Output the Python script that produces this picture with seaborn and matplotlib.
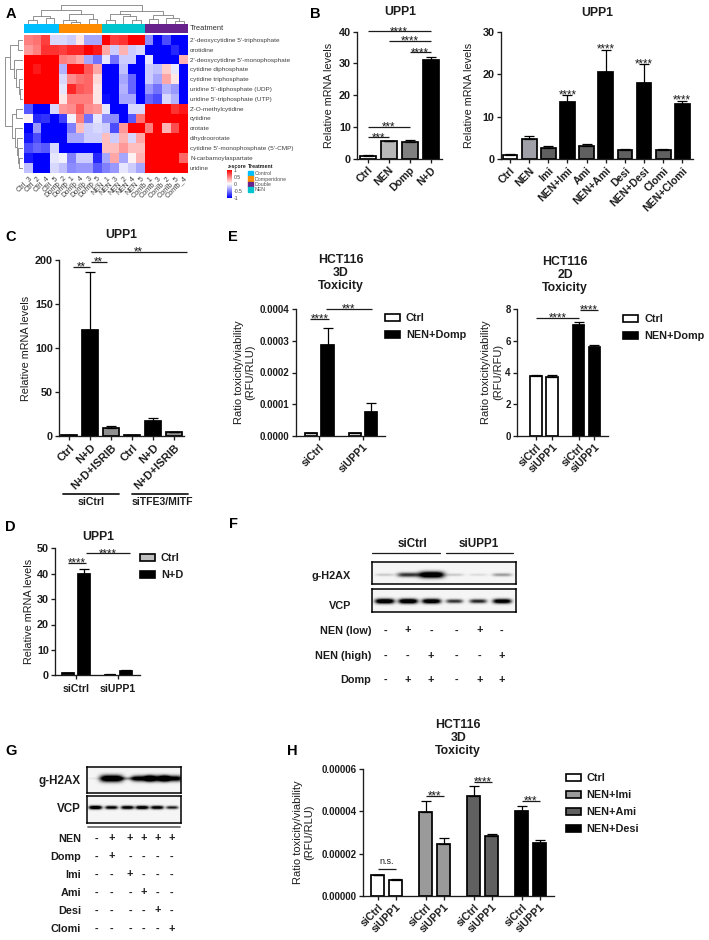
import numpy as np
import pandas as pd
import seaborn as sb
import matplotlib
matplotlib.use('Agg')
import matplotlib.pyplot as plt
from matplotlib.colors import ListedColormap
from matplotlib.lines import Line2D
from matplotlib.patches import Patch

sb.set_style('ticks')
plt.rcParams['font.family'] = ['Liberation Sans', 'DejaVu Sans']

W, H = 709, 940
INK = '#1c1c1c'

# panel A data
metabolites = ["2'-deoxycytidine 5'-triphosphate", 'orotidine', "2'-deoxycytidine 5'-monophosphate",
               'cytidine diphosphate', 'cytidine triphosphate', "uridine 5'-diphosphate (UDP)",
               "uridine 5'-triphosphate (UTP)", "2'-O-methylcytidine", 'cytidine', 'orotate',
               'dihydroorotate', "cytidine 5'-monophosphate (5'-CMP)", 'N-carbamoylaspartate', 'uridine']
samples = ['Ctrl_3', 'Ctrl_2', 'Ctrl_4', 'Ctrl_5', 'Domp_2', 'Domp_1', 'Domp_4', 'Domp_3', 'Domp_5',
           'NEN_1', 'NEN_3', 'NEN_2', 'NEN_4', 'NEN_5', 'Comb_1', 'Comb_3', 'Comb_2', 'Comb_5', 'Comb_4']
sample_group = [0]*4 + [1]*5 + [3]*5 + [2]*5
treatments = ['Control', 'Domperidone', 'Double', 'NEN']
treatment_colors = ['#00BFFF', '#FF8C00', '#68228B', '#00C5CD']
zscores = [
    [.5, .55, .75, -.15, -.15, -.2, .1, -.35, -.35, 1, .75, .8, 1, 1, -.45, -1, -.7, -1, -1],
    [.4, .5, .8, .8, .75, .85, .85, 1, .9, .35, -.2, .3, -.2, -.15, -1, -1, -1, -.85, -1],
    [1, 1, 1, 1, .5, .45, .35, -.35, -.55, -.1, -.55, -.2, -.2, -1, -.1, -1, -1, -1, .3],
    [1, .9, 1, 1, -.3, .95, .95, .65, .35, -1, -1, -.25, -1, -1, -.2, -.25, .2, -.1, -1],
    [1, 1, 1, 1, -.15, .45, .55, .6, .15, -1, -1, -.35, -.6, -1, -.2, -.35, .35, .1, -1],
    [1, 1, 1, 1, -.1, .85, .65, .6, .1, -1, -1, -.3, -.6, -1, -.4, -.55, -.3, -.4, -1],
    [1, 1, 1, 1, .1, .5, .5, .5, .1, -.95, -1, -.35, -.35, -1, -.6, -.7, -.15, -.3, -1],
    [-.65, -1, -1, -.15, .4, .45, .65, .45, .4, -.1, -1, -1, -.15, -.15, 1, 1, 1, .8, .9],
    [.05, -.85, -.8, -1, -.75, -.05, .5, -.55, -.1, -.45, -.45, -1, -.65, .55, 1, 1, 1, 1, 1],
    [-1, -.4, -1, -1, -1, -.5, .25, -.2, -.15, -.2, -.7, .4, 1, 1, .5, 1, .3, .7, 1],
    [-.9, -.7, -1, -1, -1, -.35, -.35, -.2, -.2, .25, -.2, .3, -.15, .35, 1, 1, 1, 1, 1],
    [-.7, -.6, -.65, -.15, -1, -1, -1, -1, -1, .25, .25, .4, .25, .25, 1, 1, 1, 1, 1],
    [-.9, -1, -1, -.1, -.05, -.5, -.2, -.2, -.85, -.35, .35, -.35, .05, .3, 1, 1, 1, 1, .6],
    [-.25, -1, -1, -.15, -.25, -.45, -.4, -.4, -.65, -.5, -.4, -.1, -.2, -.35, 1, 1, 1, 1, 1],
]
# dendrograms as (height, left, right), leaves are column / row numbers
col_tree = (56, (42, (24, (12, 0, 1), (16, 2, 3)), (30, (10, 4, (6, 5, 6)), (14, 7, 8))),
            (38, (28, (12, 9, 10), (22, 11, (10, 12, 13))), (26, (14, 14, 15), (18, 16, (8, 17, 18)))))
row_tree = (56, (40, (16, 0, 1), (28, 2, (20, 3, (12, 4, (8, 5, 6))))),
            (34, (22, 7, 8), (24, 9, (18, 10, (14, 11, (12, 12, 13))))))

# panel B
b1_labels = ['Ctrl', 'NEN', 'Domp', 'N+D']
b1_vals = [1, 5.5, 5.4, 31]
b1_errs = [.1, .1, .4, 1]
b2_labels = ['Ctrl', 'NEN', 'Imi', 'NEN+Imi', 'Ami', 'NEN+Ami', 'Desi', 'NEN+Desi', 'Clomi', 'NEN+Clomi']
b2_vals = [1, 4.8, 2.6, 13.5, 3, 20.5, 2.2, 17.9, 2.1, 13]
b2_errs = [.1, .7, .4, 1.5, .5, 5.2, .2, 4.4, .3, .7]

# panel C
c_labels = ['Ctrl', 'N+D', 'N+D+ISRIB', 'Ctrl', 'N+D', 'N+D+ISRIB']
c_vals = [1.5, 121, 9, 1, 16.5, 4]
c_errs = [.2, 65, 2, .2, 3.5, 1]

# panel D
d_vals = [1, 40, .3, 1.7]
d_errs = [.1, 2, .05, .3]

# panel E
e1_vals = [.000008, .000288, .000008, .000076]
e1_errs = [.000001, .000052, .000001, .000028]
e2_vals = [3.75, 3.72, 7, 5.63]
e2_errs = [.07, .1, .2, .09]

# panel H
h_vals = [.0000097, .0000077, .0000395, .0000243, .0000472, .0000283, .00004, .0000252]
h_errs = [.0000003, .0000002, .0000055, .0000032, .0000045, .0000007, .0000025, .0000011]

si_labels = ['siCtrl', 'siUPP1']

# blots, band strength per lane
f_h2ax = [.12, .55, 1, .12, .07, .25]
f_vcp = [.95, .95, .9, .55, .6, .85]
g_h2ax = [.04, 1, .25, .8, .85, .8]
g_vcp = [.9, .75, .8, .85, .8, .6]

f_rows = ['NEN (low)', 'NEN (high)', 'Domp']
f_signs = ['-+--+-', '--+--+', '-++-++']
g_rows = ['NEN', 'Domp', 'Imi', 'Ami', 'Desi', 'Clomi']
g_signs = ['-+++++', '-+----', '--+---', '---+--', '----+-', '-----+']

fig = plt.figure(figsize=(W/100, H/100), dpi=100, facecolor='white')


def px_ax(x0, y0, x1, y1):
    return fig.add_axes([x0/W, 1-y1/H, (x1-x0)/W, (y1-y0)/H])


def txt(x, y, s, size=7.8, weight='bold', ha='center', va='center', **kw):
    fig.text(x/W, 1-y/H, s, fontsize=size, fontweight=weight, ha=ha, va=va, color=kw.pop('color', INK), **kw)


def hline(x0, x1, y, lw=.9, color=INK):
    fig.add_artist(Line2D([x0/W, x1/W], [1-y/H, 1-y/H], color=color, lw=lw))


def draw_tree(ax, node, top=True):
    # returns (position, height) of node
    if not isinstance(node, tuple):
        return node+.5, 0
    h, a, b = node
    xa, ha_ = draw_tree(ax, a, top)
    xb, hb_ = draw_tree(ax, b, top)
    px, py = [xa, xa, xb, xb], [ha_, h, h, hb_]
    if top:
        ax.plot(px, py, color='#808080', lw=.6)
    else:
        ax.plot(py, px, color='#808080', lw=.6)
    return (xa+xb)/2, h


def bar_panel(box, x, vals, errs, colors, p0, step, barw, yticks, ylabels, ticks=None, labels=None,
              tsize=7.8, lsize=7.6, rot=45):
    l, t, r, b = box
    ax = px_ax(l, t, r, b)
    df = pd.DataFrame({'x': x, 'y': vals})
    sb.barplot(data=df, x='x', y='y', hue='x', palette=dict(zip(x, colors)), dodge=False, legend=False,
               native_scale=True, width=barw/step, saturation=1, errorbar=None,
               edgecolor='black', linewidth=1.25, ax=ax)
    ax.errorbar(x, vals, yerr=[np.zeros(len(x)), errs], fmt='none', ecolor='black', elinewidth=.9,
                capsize=3.3, capthick=.9, zorder=1)
    ax.set_xlim((l-p0)/step, (r-p0)/step)
    ax.set_ylim(yticks[0], yticks[-1])
    ax.set_xlabel('')
    ax.set_ylabel('')
    ax.set_yticks(yticks)
    ax.set_yticklabels(ylabels, fontsize=tsize, fontweight='bold', color=INK)
    ax.set_xticks(x if ticks is None else ticks)
    names = labels
    if rot:
        ax.set_xticklabels(names, rotation=rot, ha='right', rotation_mode='anchor',
                           fontsize=lsize, fontweight='bold', color=INK)
    else:
        ax.set_xticklabels(names, fontsize=lsize, fontweight='bold', color=INK)
    ax.tick_params(length=3, width=.95, color=INK, pad=1.5)
    if not rot:
        ax.tick_params(axis='x', pad=3)
    for s in ['left', 'bottom']:
        ax.spines[s].set_linewidth(.95)
        ax.spines[s].set_color(INK)
    sb.despine(ax=ax)
    ax.patch.set_alpha(0)
    return ax


def sig(ax, a, b, y, label='', size=8.4):
    ax.plot([a, b], [y, y], color=INK, lw=.9, clip_on=False, solid_capstyle='butt')
    ax.annotate(label, ((a+b)/2, y), xytext=(0, -2.6), textcoords='offset points', ha='center', va='baseline',
                fontsize=size, color=INK, annotation_clip=False)


def stars(ax, x, y, label='****'):
    ax.annotate(label, (x, y), xytext=(0, -5), textcoords='offset points', ha='center', va='baseline',
                fontsize=8.4, color=INK, annotation_clip=False)


def legend_at(x, y, labels, colors, size=7.8, spacing=.66):
    handles = [Patch(facecolor=c, edgecolor='black', linewidth=1.2) for c in colors]
    fig.legend(handles, labels, loc='upper left', bbox_to_anchor=(x/W, 1-y/H), frameon=False, borderpad=0,
               borderaxespad=0, handlelength=1.38, handleheight=.62, handletextpad=.55, labelspacing=spacing,
               prop={'size': size, 'weight': 'bold'}, labelcolor=INK)


def blot(box, centers, strengths, band_y, half_w, thin, fat):
    l, t, r, b = box
    ax = px_ax(l, t, r, b)
    xs, ys = np.meshgrid(np.arange(l, r), np.arange(t, b))
    img = np.full(xs.shape, .04)
    for c, s in zip(centers, strengths):
        hh = thin + fat*s
        img += s*1.4*np.exp(-((xs-c)/(half_w*(.8+.35*s)))**4)*np.exp(-((ys-band_y)/hh)**2)
    sb.heatmap(np.clip(img, 0, 1), cmap='gray_r', vmin=0, vmax=1, cbar=False, xticklabels=False, yticklabels=False,
               rasterized=True, ax=ax)
    ax.tick_params(length=0)
    for s in ax.spines.values():
        s.set_visible(True)
        s.set_linewidth(1.1)
        s.set_color('black')
    return ax


def sign_rows(rows, signs, ys, cols, label_right):
    for name, row, y in zip(rows, signs, ys):
        txt(label_right, y, name, size=7.8, ha='right')
        for c, mark in zip(cols, row):
            txt(c, y-(.5 if mark == '+' else 0), mark, size=7.8)


# A: clustered heatmap, laid out by hand so the strips and trees land where they should
ann = px_ax(24, 24, 188, 33)
sb.heatmap([sample_group], cmap=ListedColormap(treatment_colors), vmin=0, vmax=3, cbar=False,
           xticklabels=False, yticklabels=False, ax=ann)
ann.tick_params(length=0)

ax_hm = px_ax(24, 35, 188, 172.5)
cax = px_ax(227.3, 170, 232.3, 197.7)
hm_df = pd.DataFrame(zscores, index=metabolites, columns=samples)
sb.heatmap(hm_df, cmap=sb.blend_palette(['#0000FF', '#FFFFFF', '#FF0000'], as_cmap=True), vmin=-1, vmax=1,
           ax=ax_hm, cbar_ax=cax, xticklabels=True, yticklabels=True)
ax_hm.tick_params(length=0, pad=1.5)
ax_hm.yaxis.tick_right()
ax_hm.set_yticklabels(metabolites, rotation=0, fontsize=4.6, color='#404040')
ax_hm.set_xticklabels(samples, rotation=45, ha='right', rotation_mode='anchor', fontsize=5.3, color='#404040')
cax.set_yticks([-1, -.5, 0, .5, 1])
cax.set_yticklabels(['-1', '-0.5', '0', '0.5', '1'], fontsize=3.7, color='#404040')
cax.tick_params(length=0, pad=1.2)

tree_top = px_ax(24, 5, 188, 23.5)
draw_tree(tree_top, col_tree)
tree_top.set_xlim(0, len(samples))
tree_top.set_ylim(0, 56)
tree_top.axis('off')
tree_left = px_ax(4.5, 35, 23, 172.5)
draw_tree(tree_left, row_tree, top=False)
tree_left.set_ylim(len(metabolites), 0)
tree_left.set_xlim(56, 0)
tree_left.axis('off')

txt(190, 29, 'Treatment', size=5.4, weight='normal', ha='left', color='#303030')
txt(227.3, 167, 'z-score', size=3.8, ha='left')
txt(248.3, 167, 'Treatment', size=3.8, ha='left')
for name, color, y in zip(treatments, treatment_colors, [173.3, 179, 184.3, 189.7]):
    fig.patches.append(plt.Rectangle((248.3/W, 1-(y+2.6)/H), 4.8/W, 5.2/H, transform=fig.transFigure, color=color))
    txt(255, y, name, size=3.8, weight='normal', ha='left', color='#505050')

# B
ax = bar_panel((357, 31.7, 441.7, 158.7), [0, 1, 2, 3], b1_vals, b1_errs, ['white', '#b8b8b8', '#808080', 'black'],
               367.7, 21, 16, [0, 10, 20, 30, 40], ['0', '10', '20', '30', '40'], labels=b1_labels)
sig(ax, 0, 3, 40.1, '****')
sig(ax, 1, 3, 37.2, '****')
sig(ax, 2, 3, 33.5, '****')
sig(ax, 0, 2, 10, '***')
sig(ax, 0, 1, 6.7, '***')
txt(400, 12, 'UPP1', size=8.8)
txt(329, 95, 'Relative mRNA levels', weight='normal', rotation=90)

ax = bar_panel((500.7, 31.7, 693, 159), list(range(10)), b2_vals, b2_errs,
               ['white', '#a0a0a8', '#606060', 'black', '#606060', 'black', '#606060', 'black', '#606060', 'black'],
               510, 19.15, 14.7, [0, 10, 20, 30], ['0', '10', '20', '30'], labels=b2_labels)
for i, y in [(3, 15.9), (5, 26.7), (7, 23.3), (9, 14.8)]:
    stars(ax, i, y)
txt(597, 13, 'UPP1', size=8.8)
txt(469, 95, 'Relative mRNA levels', weight='normal', rotation=90)

# C
ax = bar_panel((59.3, 260, 184.3, 436), list(range(6)), c_vals, c_errs,
               ['white', 'black', '#909090', 'white', 'black', '#909090'],
               69.3, 21, 16, [0, 50, 100, 150, 200], ['0', '50', '100', '150', '200'], labels=c_labels, lsize=8)
sig(ax, .18, 1, 192, '**')
sig(ax, 1.02, 1.78, 198, '**')
sig(ax, 1.02, 5.6, 209, '**')
txt(121, 235, 'UPP1', size=8.8)
txt(25.7, 348, 'Relative mRNA levels', weight='normal', rotation=90)
hline(63, 119, 493.7, lw=1.3)
hline(132, 187.7, 493.7, lw=1.3)
txt(90.7, 501.7, 'siCtrl', size=7.6)
txt(162, 501.7, 'siTFE3/MITF', size=7.5)

# D
ax = bar_panel((55, 548.3, 140, 675.3), [0, 1, 2.625, 3.625], d_vals, d_errs, ['#c0c0c0', 'black', '#c0c0c0', 'black'],
               68, 16, 12, [0, 10, 20, 30, 40, 50], ['0', '10', '20', '30', '40', '50'],
               ticks=[.5, 3.125], labels=si_labels, rot=0)
sig(ax, 0, 1.125, 44.3, '****')
sig(ax, 1.125, 3.875, 48, '****')
txt(98, 537, 'UPP1', size=8.8)
txt(29, 611, 'Relative mRNA levels', weight='normal', rotation=90)
legend_at(140, 553, ['Ctrl', 'N+D'], ['#c0c0c0', 'black'])

# E
ax = bar_panel((296, 309, 385, 436), [0, 1, 2.675, 3.675], e1_vals, e1_errs, ['white', 'black', 'white', 'black'],
               311.2, 16.3, 12.3, [0, .0001, .0002, .0003, .0004], ['0.0000', '0.0001', '0.0002', '0.0003', '0.0004'],
               ticks=[.5, 3.175], labels=si_labels, tsize=7)
sig(ax, -.07, 1.1, .000368, '****')
sig(ax, .88, 3.7, .0004, '***')
txt(341, 273, 'HCT116\n3D\nToxicity', size=8.8, linespacing=1.12)
txt(244.5, 372, 'Ratio toxicity/viability\n(RFU/RLU)', size=8, weight='normal', rotation=90, linespacing=1.2)
legend_at(385, 313, ['Ctrl', 'NEN+Domp'], ['white', 'black'])

ax = bar_panel((517, 309, 607.7, 436), [0, 1, 2.67, 3.64], e2_vals, e2_errs, ['white', 'white', 'black', 'black'],
               536, 16, 11.7, [0, 2, 4, 6, 8], ['0', '2', '4', '6', '8'],
               ticks=[0, 1, 2.67, 3.64], labels=si_labels*2, tsize=7)
sig(ax, 0, 2.67, 7.43, '****')
sig(ax, 2.75, 3.85, 7.94, '****')
txt(565, 275, 'HCT116\n2D\nToxicity', size=8.8, linespacing=1.12)
txt(492, 372, 'Ratio toxicity/viability\n(RFU/RFU)', size=8, weight='normal', rotation=90, linespacing=1.2)
legend_at(623.3, 314, ['Ctrl', 'NEN+Domp'], ['white', 'black'])

# F
f_lanes = [384.3, 407.7, 431, 454, 477.7, 501.7]
blot((372, 562, 516, 584), f_lanes, f_h2ax, 574.3, 11, 1.2, 2)
blot((372, 589, 516, 612), f_lanes, f_vcp, 600.7, 8.5, 1.4, 1.2)
hline(372.3, 440, 552.7)
hline(445.7, 513.3, 552.7)
txt(412.3, 544, 'siCtrl', size=8.4)
txt(479, 544, 'siUPP1', size=8.4)
txt(351, 576, 'g-H2AX', ha='right')
txt(351, 606, 'VCP', ha='right')
sign_rows(f_rows, f_signs, [631, 656, 680], [385, 407.7, 431, 456, 479.3, 501.7], 371)

# G
g_lanes = [95, 111, 127, 141.7, 156.7, 171.7]
blot((87, 767, 181, 793), g_lanes, g_h2ax, 778, 10, 1, 2.5)
blot((87, 796, 181, 823), g_lanes, g_vcp, 807, 6, 1.2, .8)
hline(88, 180, 826.7, lw=1.3, color='#707070')
txt(81, 781.3, 'g-H2AX', size=8.4, ha='right')
txt(81, 809.3, 'VCP', size=8.4, ha='right')
sign_rows(g_rows, g_signs, [839, 856.7, 875, 892.7, 911, 929.3], [96.3, 111.7, 130, 143.7, 157.7, 171.7], 81)

# H
h_x = [0, 1, 2.67, 3.67, 5.33, 6.33, 8, 9]
ax = bar_panel((362.7, 768.7, 554.3, 896), h_x, h_vals, h_errs,
               ['white', 'white', '#9a9a9a', '#9a9a9a', '#606060', '#606060', 'black', 'black'],
               377.7, 18, 12.7, [0, .00002, .00004, .00006], ['0.00000', '0.00002', '0.00004', '0.00006'],
               ticks=h_x, labels=si_labels*4, tsize=7)
sig(ax, 0, 1, .0000126, '')
ax.annotate('n.s.', (.5, .0000126), xytext=(0, 2), textcoords='offset points', ha='center', va='bottom',
            fontsize=6.5, color=INK)
sig(ax, 2.67, 3.67, .0000473, '***')
sig(ax, 5.33, 6.33, .0000537, '****')
sig(ax, 8, 9, .0000449, '***')
txt(458.3, 738, 'HCT116\n3D\nToxicity', size=8.8, linespacing=1.12)
txt(303.5, 832, 'Ratio toxicity/viability\n(RFU/RLU)', size=8, weight='normal', rotation=90, linespacing=1.2)
legend_at(565.7, 773, ['Ctrl', 'NEN+Imi', 'NEN+Ami', 'NEN+Desi'], ['white', '#9a9a9a', '#606060', 'black'])

# panel letters
for s, x, y in [('A', 10.7, 14.3), ('B', 315, 14), ('C', 10.7, 236.7), ('D', 10.7, 527.3), ('E', 233.3, 236.7),
                ('F', 233.3, 524), ('G', 11, 751), ('H', 292.7, 751)]:
    txt(x, y, s, size=10.5, color='black')

fig.savefig('out.png', dpi=100)
